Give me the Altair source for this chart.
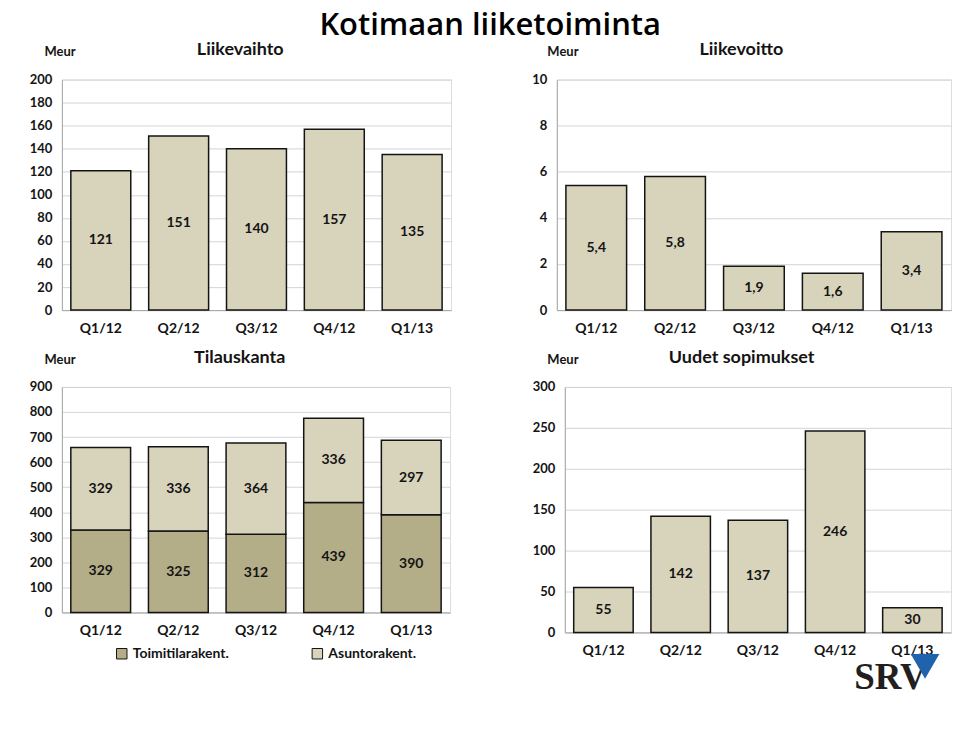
import altair as alt
import pandas as pd

quarters = ["Q1/12", "Q2/12", "Q3/12", "Q4/12", "Q1/13"]
liikevaihto = [121, 151, 140, 157, 135]
liikevoitto = [5.4, 5.8, 1.9, 1.6, 3.4]
toimitila = [329, 325, 312, 439, 390]
asunto = [329, 336, 364, 336, 297]
uudet = [55, 142, 137, 246, 30]
series_names = ["Toimitilarakent.", "Asuntorakent."]

LIGHT = "#D8D3BB"
DARK = "#B3AE88"
FONT = "Lato"
INK = "#141414"


def fmt(v):
    s = f"{v:.1f}" if isinstance(v, float) else str(v)
    return s.replace(".", ",")


def x_enc():
    return alt.X(
        "q:N", sort=quarters, title=None,
        scale=alt.Scale(paddingInner=0.23, paddingOuter=0.115),
        axis=alt.Axis(labelAngle=0, labelFont=FONT, labelFontSize=14,
                      labelFontWeight="bold", labelColor=INK, ticks=False,
                      labelPadding=11, domainColor="#A6A6A6"),
    )


def y_enc(field, ymax, step, title_x, title_y=-28):
    return alt.Y(
        field,
        scale=alt.Scale(domain=[0, ymax], nice=False, zero=True),
        axis=alt.Axis(values=list(range(0, ymax + 1, step)), title="Meur",
                      titleAngle=0, titleAlign="left", titleBaseline="middle",
                      titleX=title_x, titleY=title_y, titleFont=FONT,
                      titleFontSize=13, titleFontWeight="bold", titleColor=INK,
                      labelFont=FONT, labelFontSize=13, labelFontWeight="bold",
                      labelColor=INK, ticks=False, labelPadding=10,
                      gridColor="#D4D4D4", domainColor="#A6A6A6"),
    )


def panel_title(t):
    return alt.Title(t, font=FONT, fontSize=18, fontWeight="bold", color=INK,
                     anchor="middle", frame="bounds", offset=-13)


def bar_panel(values, title, ymax, step, width, height, title_x):
    df = pd.DataFrame({"q": quarters, "v": values, "lab": [fmt(v) for v in values]})
    base = alt.Chart(df)
    bars = base.mark_bar(fill=LIGHT, stroke=INK, strokeWidth=1.5).encode(
        x=x_enc(), y=y_enc("v:Q", ymax, step, title_x))
    txt = base.transform_calculate(mid="datum.v / 2").mark_text(
        font=FONT, fontSize=14, fontWeight="bold", color=INK, baseline="middle"
    ).encode(x=x_enc(), y=y_enc("mid:Q", ymax, step, title_x), text="lab:N")
    return alt.layer(bars, txt).properties(width=width, height=height, title=panel_title(title))


top_left = bar_panel(liikevaihto, "Liikevaihto", 200, 20, 390, 231, -18)
top_right = bar_panel(liikevoitto, "Liikevoitto", 10, 2, 395, 231, -10)

# stacked panel
df_s = pd.DataFrame({
    "q": quarters * 2,
    "s": [series_names[0]] * 5 + [series_names[1]] * 5,
    "v": toimitila + asunto,
    "o": [0] * 5 + [1] * 5,
})
sbase = alt.Chart(df_s).transform_stack(
    stack="v", groupby=["q"], as_=["y0", "y1"], sort=[alt.SortField("o")]
).transform_calculate(mid="(datum.y0 + datum.y1) / 2")
sbars = sbase.mark_bar(stroke=INK, strokeWidth=1.5).encode(
    x=x_enc(),
    y=y_enc("y1:Q", 900, 100, -18, -27),
    y2="y0:Q",
    color=alt.Color("s:N", scale=alt.Scale(domain=series_names, range=[DARK, LIGHT]),
                    legend=alt.Legend(title=None, orient="none", legendX=53, legendY=568,
                                      direction="horizontal", symbolType="square",
                                      symbolSize=110, symbolStrokeColor=INK,
                                      symbolStrokeWidth=1, symbolOpacity=1,
                                      labelFont=FONT, labelFontSize=14,
                                      labelFontWeight="bold", labelColor=INK,
                                      columnPadding=80)),
    order=alt.Order("o:Q"),
)
stxt = sbase.mark_text(font=FONT, fontSize=14, fontWeight="bold", color=INK,
                       baseline="middle").encode(
    x=x_enc(), y=y_enc("mid:Q", 900, 100, -18, -27), text="v:Q")
bottom_left = alt.layer(sbars, stxt).properties(width=389, height=226,
                                                 title=panel_title("Tilauskanta"))

# new contracts panel with logo
df_u = pd.DataFrame({"q": quarters, "v": uudet})
ubase = alt.Chart(df_u)
ubars = ubase.mark_bar(fill=LIGHT, stroke=INK, strokeWidth=1.5).encode(
    x=x_enc(), y=y_enc("v:Q", 300, 50, -18, -27))
utxt = ubase.transform_calculate(mid="datum.v / 2").mark_text(
    font=FONT, fontSize=14, fontWeight="bold", color=INK, baseline="middle"
).encode(x=x_enc(), y=y_enc("mid:Q", 300, 50, -18, -27), text="v:Q")
logo_df = pd.DataFrame({"t": ["SRV"]})
logo_txt = alt.Chart(logo_df).mark_text(
    font="Liberation Serif", fontSize=37, fontWeight="bold", color="#231F20",
    align="left", baseline="alphabetic", clip=False
).encode(x=alt.value(290), y=alt.value(303), text="t:N")
logo_tri = alt.Chart(logo_df).mark_point(
    shape="triangle-down", filled=True, color="#1F63AD", size=820, opacity=1, clip=False
).encode(x=alt.value(361), y=alt.value(280))
bottom_right = alt.layer(ubars, utxt, logo_txt, logo_tri).properties(
    width=387, height=246, title=panel_title("Uudet sopimukset"))

chart = alt.vconcat(
    alt.hconcat(top_left, top_right, spacing=79),
    alt.hconcat(bottom_left, bottom_right, spacing=80),
    spacing=12,
).properties(
    title=alt.Title("Kotimaan liiketoiminta", font="Open Sans", fontSize=31,
                    fontWeight=600, color="#000", anchor="middle", offset=-2),
    padding={"left": 20, "top": 1, "right": 0, "bottom": 4},
).configure_view(stroke="#BDBDBD").configure(background="white")

chart.save("out.html", embed_options={"renderer": "svg", "actions": False})
